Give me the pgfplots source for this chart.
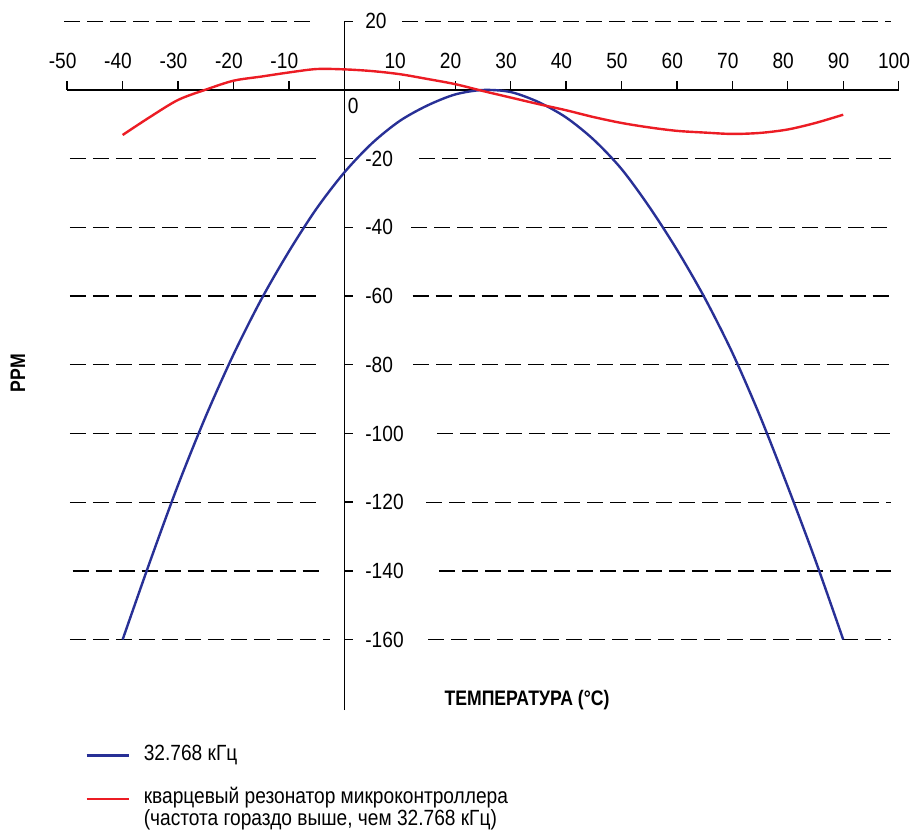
\documentclass[border=0pt]{standalone}
\usepackage{fontspec}
\setmainfont{Liberation Sans}[FakeStretch=0.87, BoldFeatures={FakeStretch=0.84}]
\usepackage{pgfplots}
\pgfplotsset{compat=1.18}
\definecolor{cblue}{RGB}{40,48,150}
\definecolor{cred}{RGB}{236,28,36}
\begin{document}
\begin{tikzpicture}
\begin{axis}[
  at={(0,0)}, anchor=south west,
  x=2.7715pt, y=1.7175pt,
  xmin=-50, xmax=100, ymin=-180.5, ymax=20,
  axis lines=middle,
  axis line style={-, line width=0.75pt, black},
  tick align=inside,
  major tick length=4.5pt,
  tick style={line width=0.7pt, black},
  xtick={-50,-40,-30,-20,-10,10,20,30,40,50,60,70,80,90,100},
  xticklabels={-50,-40,-30,-20,-10,10,20,30,40,50,60,70,80,90,100},
  ytick={20,-20,-40,-60,-80,-100,-120,-140,-160},
  yticklabels={20,-20,-40,-60,-80,-100,-120,-140,-160},
  xticklabel style={anchor=base, inner sep=0pt, yshift=10.6pt, xshift=-2.3pt},
  yticklabel style={anchor=west, inner sep=0pt, xshift=10.3pt},
  ticklabel style={font=\fontsize{11}{13}\selectfont},
  clip=false,
  xlabel={ТЕМПЕРАТУРА (°C)},
  ylabel={PPM},
  xlabel style={at={(axis description cs:0.553,0.0145)}, anchor=center, font=\bfseries\fontsize{10.5}{12}\selectfont},
  ylabel style={at={(axis description cs:-0.0593,0.489)}, anchor=center, rotate=90, font=\bfseries\fontsize{10.5}{12}\selectfont},
  legend cell align=left,
  legend image code/.code={\draw[#1] (0pt,0pt) -- (21pt,0pt);},
  legend style={draw=none, fill=none, inner sep=0pt,
    at={(axis description cs:0.0214,-0.0498)}, anchor=north west,
    row sep=0pt, column sep=7pt,
    font=\fontsize{11}{13}\selectfont,
    nodes={inner sep=0pt, text height=7.8pt, text depth=3.0pt, anchor=west}},
]
% dashed grid lines
\begin{scope}[dash pattern=on 8pt off 3.5pt, line width=0.65pt, black]
\draw (axis cs:-50.5,20) -- (axis cs:-5,20);
\draw (axis cs:10.4,20) -- (axis cs:98.6,20);
\draw (axis cs:-49.5,-20) -- (axis cs:-5,-20);
\draw (axis cs:13.5,-20) -- (axis cs:98.6,-20);
\draw (axis cs:-49.5,-40) -- (axis cs:-4.5,-40);
\draw (axis cs:12.1,-40) -- (axis cs:98.6,-40);
\draw (axis cs:-49.5,-60) -- (axis cs:-5,-60);
\draw (axis cs:12.3,-60) -- (axis cs:98.6,-60);
\draw (axis cs:-49.5,-80) -- (axis cs:-5,-80);
\draw (axis cs:12.4,-80) -- (axis cs:98.6,-80);
\draw (axis cs:-49.5,-100) -- (axis cs:-5,-100);
\draw (axis cs:16.7,-100) -- (axis cs:98.6,-100);
\draw (axis cs:-49.5,-120) -- (axis cs:-5,-120);
\draw (axis cs:14.8,-120) -- (axis cs:98.6,-120);
\draw (axis cs:-49,-140) -- (axis cs:-4.5,-140);
\draw (axis cs:17.1,-140) -- (axis cs:98.6,-140);
\draw (axis cs:-49.5,-160) -- (axis cs:-2.5,-160);
\draw (axis cs:15.1,-160) -- (axis cs:98.6,-160);
\end{scope}
\node[anchor=west, inner sep=0pt, font=\fontsize{11}{13}\selectfont] at (axis cs:0,0) [xshift=1.6pt, yshift=-8pt] {0};

\addplot[cblue, line width=1.2pt, smooth] coordinates {
(-40,-160) (-35,-137) (-30,-115) (-25,-95) (-20,-77) (-15,-61) (-10,-47)
(-5,-34.5) (0,-24) (5,-15.5) (10,-9) (15,-4.5) (20,-1.3) (25,0) (30,-0.6)
(35,-3.5) (40,-8) (45,-14.5) (50,-23) (55,-34) (60,-46.5) (65,-60.5)
(70,-76.5) (75,-95) (80,-115.5) (85,-137) (90,-160)};
\addlegendentry{32.768 кГц}
\addlegendimage{empty legend}
\addlegendentry{}
\addplot[cred, line width=1.2pt, smooth] coordinates {
(-40,-13.1) (-35,-7.8) (-30,-2.9) (-25,0.1) (-20,2.7) (-15,3.9) (-10,5.1)
(-5,6.1) (0,6.0) (5,5.5) (10,4.6) (15,3.2) (20,1.7) (25,-0.3) (30,-2.2)
(35,-4.1) (40,-5.9) (45,-7.9) (50,-9.6) (55,-10.9) (60,-11.9) (65,-12.4)
(70,-12.8) (75,-12.5) (80,-11.5) (85,-9.6) (90,-7.2)};
\addlegendentry{кварцевый резонатор микроконтроллера}
\addlegendimage{empty legend}
\addlegendentry{(частота гораздо выше, чем 32.768 кГц)}
\end{axis}
\pgfresetboundingbox
\useasboundingbox (-33.6pt,-60.5pt) rectangle (421.4pt,355pt);
\end{tikzpicture}
\end{document}
